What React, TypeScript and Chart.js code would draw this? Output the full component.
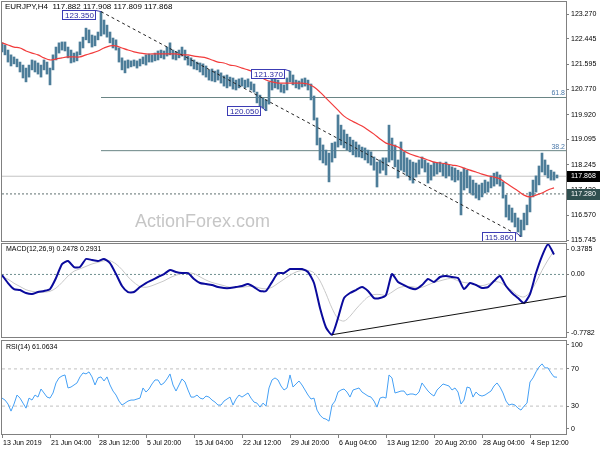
import React, { useEffect, useRef } from "react";
import { Chart, registerables } from "chart.js";

Chart.register(...registerables);

const FONT = "'Liberation Sans', Arial, sans-serif";

// ---------------- data ----------------
const symbolTitle = "EURJPY,H4";
const lastBarOHLC = [117.882, 117.908, 117.809, 117.868];

const X_MAX = 188; // bar index span (1 unit = 2 H4 bars)
const xTickIdx = [0, 16, 32, 48, 64, 80, 96, 112, 128, 144, 160, 176];
const xTickLabels = [
  "13 Jun 2019", "21 Jun 04:00", "28 Jun 12:00", "5 Jul 20:00", "15 Jul 04:00", "22 Jul 12:00",
  "29 Jul 20:00", "6 Aug 04:00", "13 Aug 12:00", "20 Aug 20:00", "28 Aug 04:00", "4 Sep 12:00",
];

const priceTicks = [123.27, 122.445, 121.595, 120.77, 119.92, 119.095, 118.245, 117.42, 116.57, 115.745];
const priceMin = 115.712;
const priceMax = 123.67;

const barHigh = [
  122.31, 122.24, 122.07, 121.91, 121.84, 121.77, 121.67, 121.57, 121.47, 121.57,
  121.74, 121.71, 121.64, 121.57, 121.74, 121.67, 121.47, 121.91, 122.17, 122.31,
  122.34, 122.34, 122.17, 122.07, 121.97, 122.01, 122.34, 122.50, 122.80, 122.74,
  122.57, 122.54, 122.67, 123.35, 123.07, 122.90, 122.67, 122.47, 122.41, 122.14,
  121.81, 121.71, 121.74, 121.71, 121.74, 121.71, 121.77, 121.84, 121.91, 121.94,
  121.91, 121.97, 122.04, 122.07, 122.04, 122.17, 122.31, 122.07, 122.01, 122.07,
  122.17, 122.07, 121.87, 121.81, 121.74, 121.67, 121.64, 121.61, 121.54, 121.41,
  121.44, 121.37, 121.41, 121.31, 121.21, 121.24, 121.17, 121.14, 121.07, 121.11,
  121.14, 121.07, 121.11, 121.01, 120.94, 120.67, 120.57, 120.47, 120.41, 121.01,
  121.17, 121.11, 121.07, 120.94, 120.91, 121.14, 121.37, 121.24, 121.07, 121.04,
  121.11, 121.14, 121.07, 120.94, 120.54, 119.81, 119.14, 118.91, 118.74, 118.64,
  118.97, 119.01, 119.91, 119.57, 119.41, 119.27, 119.17, 119.07, 119.01, 118.91,
  118.84, 118.81, 118.74, 118.68, 118.51, 118.34, 118.41, 118.48, 118.48, 119.57,
  119.14, 118.91, 118.41, 119.01, 118.68, 118.48, 118.41, 118.34, 118.31, 118.41,
  118.51, 118.41, 118.31, 118.24, 118.34, 118.31, 118.34, 118.28, 118.34, 118.24,
  118.18, 118.14, 118.07, 118.01, 118.14, 118.07, 117.88, 117.74, 117.64, 117.58,
  117.64, 117.74, 117.68, 117.88, 117.97, 118.01, 117.91, 117.68, 117.24, 116.91,
  116.81, 116.64, 116.48, 116.41, 116.64, 116.91, 117.34, 117.74, 117.88, 118.21,
  118.64, 118.41, 118.24, 118.07, 118.01, 117.91,
];
const barLow = [
  122.01, 121.91, 121.67, 121.54, 121.61, 121.51, 121.34, 121.14, 121.01, 121.17,
  121.41, 121.34, 121.27, 121.17, 121.41, 121.27, 120.91, 121.41, 121.74, 121.97,
  122.07, 122.04, 121.81, 121.64, 121.67, 121.71, 121.91, 122.14, 122.41, 122.31,
  122.17, 122.21, 122.41, 122.54, 122.60, 122.50, 122.31, 122.14, 122.07, 121.67,
  121.41, 121.31, 121.47, 121.51, 121.54, 121.47, 121.54, 121.61, 121.57, 121.67,
  121.67, 121.71, 121.74, 121.81, 121.77, 121.87, 121.91, 121.77, 121.74, 121.81,
  121.87, 121.74, 121.57, 121.54, 121.44, 121.41, 121.34, 121.24, 121.17, 121.07,
  121.04, 121.01, 121.07, 120.97, 120.87, 120.81, 120.87, 120.77, 120.74, 120.81,
  120.87, 120.81, 120.84, 120.74, 120.67, 120.31, 120.21, 120.14, 120.05, 120.27,
  120.74, 120.81, 120.77, 120.67, 120.64, 120.74, 121.01, 120.91, 120.81, 120.77,
  120.84, 120.87, 120.74, 120.41, 119.74, 118.91, 118.41, 118.31, 118.24, 117.68,
  118.34, 118.48, 118.84, 118.91, 118.81, 118.74, 118.68, 118.58, 118.51, 118.51,
  118.48, 118.41, 118.31, 118.24, 118.07, 117.51, 117.97, 118.07, 117.91, 118.34,
  118.41, 118.18, 117.81, 118.07, 118.01, 117.88, 117.74, 117.64, 117.84, 117.94,
  118.14, 118.01, 117.64, 117.74, 117.88, 117.94, 118.01, 117.88, 117.81, 117.88,
  117.74, 117.68, 117.74, 116.58, 117.41, 117.48, 117.31, 117.24, 117.14, 117.08,
  117.18, 117.31, 117.34, 117.48, 117.54, 117.61, 117.54, 117.14, 116.51, 116.41,
  116.34, 116.18, 116.01, 115.86, 116.08, 116.25, 116.68, 117.18, 117.34, 117.58,
  118.01, 117.91, 117.81, 117.74, 117.74, 117.81,
];

// moving average, one value every 2 bar units
const maValues = [
  122.31, 122.24, 122.17, 122.14, 122.04, 121.97, 121.91, 121.81, 121.74, 121.77,
  121.81, 121.84, 121.84, 121.84, 121.91, 121.97, 122.04, 122.14, 122.21, 122.21,
  122.14, 122.07, 122.01, 121.97, 121.94, 121.94, 121.94, 121.94, 121.94, 121.94,
  121.91, 121.91, 121.87, 121.84, 121.81, 121.74, 121.67, 121.64, 121.57, 121.54,
  121.47, 121.41, 121.34, 121.21, 121.07, 121.01, 120.97, 120.97, 120.97, 120.97,
  120.97, 120.94, 120.84, 120.67, 120.47, 120.27, 120.07, 119.87, 119.74, 119.64,
  119.54, 119.41, 119.27, 119.11, 118.97, 118.91, 118.84, 118.71, 118.61, 118.54,
  118.48, 118.41, 118.34, 118.31, 118.28, 118.24, 118.21, 118.14, 118.07, 118.01,
  117.94, 117.88, 117.84, 117.78, 117.64, 117.51, 117.38, 117.24, 117.18, 117.24,
  117.31, 117.41, 117.48,
];

const fibStartIdx = 33;
const fibLevels = [120.49, 118.72];
const fibNames = ["61.8", "38.2"];
const lastPrice = 117.868;
const supportLevel = 117.28;

const swingIdx = [33, 96, 88, 173];
const swingPrice = [123.35, 121.37, 120.05, 115.86];
const swingIsHigh = [true, true, false, false];

const trendIdx = [33, 173];
const trendPrice = [123.35, 115.86];

// MACD, one value every 2 bar units
const macdValues = [
  -0.007, -0.107, -0.182, -0.194, -0.231, -0.244, -0.219, -0.206, -0.182, -0.045,
  0.129, 0.167, 0.092, 0.092, 0.192, 0.179, 0.167, 0.192, 0.142, 0.005,
  -0.144, -0.219, -0.219, -0.157, -0.107, -0.07, -0.032, 0.005, 0.055, 0.03,
  0.017, 0.017, -0.057, -0.107, -0.119, -0.132, -0.157, -0.169, -0.169, -0.157,
  -0.144, -0.119, -0.157, -0.206, -0.206, -0.095, 0.017, 0.017, 0.067, 0.067,
  0.067, 0.03, -0.107, -0.418, -0.66, -0.75, -0.542, -0.294, -0.231, -0.194,
  -0.157, -0.206, -0.294, -0.294, -0.256, 0.005, -0.095, -0.132, -0.169, -0.182,
  -0.132, -0.057, -0.095, -0.032, -0.02, -0.032, -0.045, -0.182, -0.107, -0.132,
  -0.169, -0.157, -0.082, -0.02, -0.144, -0.231, -0.294, -0.356, -0.244, 0.017,
  0.229, 0.375, 0.2478,
];
const signalValues = [
  -0.03, -0.06, -0.11, -0.15, -0.19, -0.21, -0.22, -0.22, -0.21, -0.17,
  -0.1, -0.02, 0.04, 0.07, 0.1, 0.13, 0.15, 0.17, 0.17, 0.13,
  0.06, -0.03, -0.1, -0.15, -0.16, -0.14, -0.11, -0.08, -0.04, -0.01,
  0.01, 0.02, 0.01, -0.03, -0.07, -0.1, -0.12, -0.14, -0.16, -0.16,
  -0.16, -0.15, -0.15, -0.17, -0.18, -0.16, -0.11, -0.06, -0.01, 0.03,
  0.05, 0.05, 0.02, -0.08, -0.24, -0.42, -0.55, -0.58, -0.52, -0.43,
  -0.35, -0.28, -0.25, -0.25, -0.26, -0.22, -0.17, -0.15, -0.15, -0.16,
  -0.16, -0.13, -0.1, -0.08, -0.06, -0.05, -0.08, -0.1, -0.11, -0.13,
  -0.14, -0.12, -0.09, -0.1, -0.15, -0.2, -0.26, -0.28, -0.22, -0.1,
  0.05, 0.18, 0.2931,
];
const macdMin = -0.7782;
const macdMax = 0.3785;
const macdTickVals = [0.3163, 0, -0.7284];
const macdTickLabels = ["0.3785", "0.00", "-0.7782"];
const macdTrendIdx = [110, 188];
const macdTrendVal = [-0.75, -0.27];

const rsiValues = [
  38.6, 36.5, 32.2, 24.6, 32.2, 41.9, 38.6, 33.2, 27.8, 38.6,
  36.5, 41.9, 39.7, 48.4, 44.1, 39.7, 38.6, 44.1, 54.9, 60.3,
  62.4, 63.5, 49.5, 50.5, 52.7, 54.9, 61.4, 65.7, 64.6, 66.8,
  61.4, 52.7, 60.3, 61.4, 57.0, 61.4, 52.7, 46.2, 41.9, 35.4,
  31.1, 33.2, 35.4, 36.5, 36.5, 37.6, 38.6, 49.5, 45.1, 48.4,
  53.8, 58.1, 58.1, 52.7, 54.9, 59.2, 64.6, 52.7, 46.2, 52.7,
  59.2, 55.9, 47.3, 39.7, 39.7, 41.9, 38.6, 37.6, 40.8, 39.7,
  36.5, 34.3, 31.1, 31.1, 35.4, 37.6, 39.7, 31.1, 37.6, 41.9,
  39.7, 41.9, 44.1, 38.6, 34.3, 33.2, 28.9, 33.2, 30.0, 49.5,
  58.1, 60.3, 58.1, 51.6, 47.3, 49.5, 63.5, 50.5, 53.8, 57.0,
  52.7, 47.3, 41.9, 37.6, 38.6, 25.7, 20.3, 17.0, 16.0, 13.8,
  31.1, 35.4, 45.1, 47.3, 48.4, 45.1, 39.7, 47.3, 48.4, 49.5,
  45.1, 43.0, 40.8, 39.7, 35.4, 28.9, 38.6, 39.7, 38.6, 63.5,
  60.3, 44.1, 45.1, 46.2, 46.2, 41.9, 43.0, 43.0, 41.9, 45.1,
  54.9, 50.5, 46.2, 43.0, 40.8, 47.3, 50.5, 53.8, 52.7, 51.6,
  47.3, 49.5, 45.1, 32.2, 36.5, 50.5, 49.5, 39.7, 45.1, 41.9,
  40.8, 41.9, 44.1, 46.2, 51.6, 54.9, 50.5, 44.1, 35.4, 31.1,
  32.2, 31.1, 27.8, 25.7, 30.0, 33.2, 55.9, 60.3, 66.8, 72.0,
  75.4, 71.1, 71.1, 65.7, 61.4, 61.0634,
];
const rsiTickVals = [95.7, 70, 30, 5.4];
const rsiTickLabels = ["100", "70", "30", "0"];
const rsiLevels = [70, 30];

// ---------------- helpers ----------------
const hLine = (y: number, x0: number, x1: number) => [
  { x: x0, y },
  { x: x1, y },
];

const framePlugin = {
  id: "frame",
  afterDraw(chart: any) {
    const { ctx, chartArea: a } = chart;
    ctx.save();
    ctx.strokeStyle = "#808080";
    ctx.lineWidth = 1;
    ctx.strokeRect(a.left - 0.5, a.top - 0.5, a.right - a.left + 1, a.bottom - a.top + 1);
    ctx.restore();
  },
};

const hiddenX = {
  type: "linear",
  min: 0,
  max: X_MAX,
  display: false,
  offset: false,
  grid: { offset: false },
};

const rightAxis = (min: number, max: number, vals: number[], labels: (v: number, i: number) => string) => ({
  type: "linear",
  position: "right",
  min,
  max,
  afterBuildTicks: (s: any) => {
    s.ticks = vals.map((v) => ({ value: v }));
  },
  afterFit: (s: any) => {
    s.width = 34;
    s.paddingTop = 0;
    s.paddingBottom = 0;
  },
  ticks: {
    autoSkip: false,
    padding: 2,
    color: "#000",
    font: { family: FONT, size: 7 },
    callback: (v: any, i: number) => labels(Number(v), i),
  },
  grid: { display: true, drawOnChartArea: false, drawTicks: true, tickLength: 3, color: "#808080" },
  border: { display: false },
});

const baseOptions = (padding: any) => ({
  animation: false,
  responsive: false,
  devicePixelRatio: 1,
  events: [],
  layout: { padding },
  plugins: { legend: { display: false }, tooltip: { enabled: false } },
});

function mainConfig(): any {
  const overlay = {
    id: "mainOverlay",
    beforeDatasetsDraw(chart: any) {
      const { ctx, chartArea: a } = chart;
      ctx.save();
      ctx.font = "18px 'Liberation Sans', Arial, sans-serif";
      ctx.fillStyle = "#c6c6c6";
      ctx.textAlign = "left";
      ctx.textBaseline = "alphabetic";
      ctx.fillText("ActionForex.com", a.left + 133, a.top + 225);
      ctx.restore();
    },
    afterDraw(chart: any) {
      const { ctx, chartArea: a } = chart;
      const xs = chart.scales.x;
      const ys = chart.scales.y;
      ctx.save();
      // header
      ctx.font = `8px ${FONT}`;
      ctx.fillStyle = "#000";
      ctx.textAlign = "left";
      ctx.textBaseline = "middle";
      ctx.fillText(`${symbolTitle}  ${lastBarOHLC.map((v) => v.toFixed(3)).join(" ")}`, a.left + 3, a.top + 5);
      // fib labels
      ctx.font = `7px ${FONT}`;
      ctx.fillStyle = "#4a78a8";
      ctx.textAlign = "right";
      ctx.textBaseline = "bottom";
      fibLevels.forEach((lv, j) => {
        const y = ys.getPixelForValue(lv);
        ctx.fillText(fibNames[j], a.right - 1, y - 0.5);
      });
      // swing labels
      ctx.font = `8px ${FONT}`;
      ctx.lineWidth = 1;
      swingIdx.forEach((idx, j) => {
        const px = xs.getPixelForValue(idx);
        const py = ys.getPixelForValue(swingPrice[j]);
        const text = swingPrice[j].toFixed(3);
        const w = Math.ceil(ctx.measureText(text).width) + 5;
        const h = 10;
        const right = Math.round(px) - 5;
        const top = Math.round(swingIsHigh[j] ? py - 2 : py - 5);
        ctx.fillStyle = "#fff";
        ctx.fillRect(right - w, top, w, h);
        ctx.strokeStyle = "#3c3cb4";
        ctx.strokeRect(right - w + 0.5, top + 0.5, w - 1, h - 1);
        ctx.beginPath();
        ctx.moveTo(right, top + 0.5);
        ctx.lineTo(px, py);
        ctx.stroke();
        ctx.fillStyle = "#2a2aa0";
        ctx.textAlign = "left";
        ctx.textBaseline = "middle";
        ctx.fillText(text, right - w + 3, top + h / 2 + 0.5);
      });
      // right axis value boxes
      const box = (price: number, bg: string) => {
        const y = Math.round(ys.getPixelForValue(price));
        ctx.fillStyle = bg;
        ctx.fillRect(a.right + 1, y - 5, 34, 11);
        ctx.fillStyle = "#fff";
        ctx.font = `7px ${FONT}`;
        ctx.textAlign = "left";
        ctx.textBaseline = "middle";
        ctx.fillText(price.toFixed(3), a.right + 5, y + 0.5);
      };
      box(supportLevel, "#2f4f4f");
      box(lastPrice, "#000");
      ctx.restore();
    },
  };

  return {
    type: "bar",
    data: {
      datasets: [
        { type: "line", data: hLine(lastPrice, 0, X_MAX), borderColor: "#c4c4c4", borderWidth: 1, pointRadius: 0, order: 12 },
        {
          type: "line",
          data: hLine(supportLevel, 0, X_MAX),
          borderColor: "#5f7070",
          borderWidth: 1,
          borderDash: [2, 2],
          pointRadius: 0,
          order: 11,
        },
        ...fibLevels.map((lv) => ({
          type: "line",
          data: hLine(lv, fibStartIdx, X_MAX),
          borderColor: "#6a8585",
          borderWidth: 1,
          pointRadius: 0,
          order: 10,
        })),
        {
          type: "bar",
          data: barHigh.map((h, i) => ({ x: i, y: [barLow[i], h] })),
          backgroundColor: "#4d7d99",
          borderWidth: 0,
          barThickness: 2,
          grouped: false,
          order: 5,
        },
        {
          type: "line",
          data: maValues.map((v, k) => ({ x: 2 * k, y: v })),
          borderColor: "#f23c3c",
          borderWidth: 1.2,
          pointRadius: 0,
          tension: 0.3,
          order: 3,
        },
        {
          type: "line",
          data: trendIdx.map((x, j) => ({ x, y: trendPrice[j] })),
          borderColor: "#222",
          borderWidth: 1,
          borderDash: [3, 3],
          pointRadius: 0,
          order: 1,
        },
      ],
    },
    options: {
      ...baseOptions({ left: 2, top: 2, right: 0, bottom: 9 }),
      scales: {
        x: hiddenX,
        y: rightAxis(priceMin, priceMax, priceTicks, (v) => v.toFixed(3)),
      },
    },
    plugins: [overlay, framePlugin],
  };
}

function macdConfig(): any {
  const overlay = {
    id: "macdOverlay",
    afterDraw(chart: any) {
      const { ctx, chartArea: a } = chart;
      ctx.save();
      ctx.font = `7px ${FONT}`;
      ctx.fillStyle = "#000";
      ctx.textAlign = "left";
      ctx.textBaseline = "middle";
      ctx.fillText(
        `MACD(12,26,9) ${macdValues[macdValues.length - 1].toFixed(4)} ${signalValues[signalValues.length - 1].toFixed(4)}`,
        a.left + 4,
        a.top + 5
      );
      ctx.restore();
    },
  };
  return {
    type: "line",
    data: {
      datasets: [
        { data: hLine(0, 0, X_MAX), borderColor: "#6f8f8f", borderWidth: 1, borderDash: [2, 2], pointRadius: 0, order: 10 },
        {
          data: signalValues.map((v, k) => ({ x: 2 * k, y: v })),
          borderColor: "#c8c8c8",
          borderWidth: 1,
          pointRadius: 0,
          tension: 0.3,
          order: 5,
        },
        {
          data: macdValues.map((v, k) => ({ x: 2 * k, y: v })),
          borderColor: "#0a0a9c",
          borderWidth: 2,
          pointRadius: 0,
          tension: 0.2,
          order: 3,
        },
        {
          data: macdTrendIdx.map((x, j) => ({ x, y: macdTrendVal[j] })),
          borderColor: "#111",
          borderWidth: 1,
          pointRadius: 0,
          order: 1,
        },
      ],
    },
    options: {
      ...baseOptions({ left: 2, top: 4, right: 0, bottom: 3 }),
      scales: {
        x: hiddenX,
        y: rightAxis(macdMin, macdMax, macdTickVals, (_v, i) => macdTickLabels[i]),
      },
    },
    plugins: [overlay, framePlugin],
  };
}

function rsiConfig(): any {
  const overlay = {
    id: "rsiOverlay",
    afterDraw(chart: any) {
      const { ctx, chartArea: a } = chart;
      ctx.save();
      ctx.font = `7px ${FONT}`;
      ctx.fillStyle = "#000";
      ctx.textAlign = "left";
      ctx.textBaseline = "middle";
      ctx.fillText(`RSI(14) ${rsiValues[rsiValues.length - 1].toFixed(4)}`, a.left + 4, a.top + 6);
      ctx.restore();
    },
  };
  return {
    type: "line",
    data: {
      datasets: [
        ...rsiLevels.map((lv) => ({
          data: hLine(lv, 0, X_MAX),
          borderColor: "#c0c0c0",
          borderWidth: 1,
          borderDash: [3, 3],
          pointRadius: 0,
          order: 10,
        })),
        {
          data: rsiValues.map((v, i) => ({ x: i, y: v })),
          borderColor: "#45a0f5",
          borderWidth: 1,
          pointRadius: 0,
          order: 2,
        },
      ],
    },
    options: {
      ...baseOptions({ left: 2, top: 5, right: 0, bottom: 0 }),
      scales: {
        x: {
          type: "linear",
          min: 0,
          max: X_MAX,
          offset: false,
          afterBuildTicks: (s: any) => {
            s.ticks = xTickIdx.map((v) => ({ value: v }));
          },
          afterFit: (s: any) => {
            s.height = 16;
            s.paddingLeft = 0;
            s.paddingRight = 0;
          },
          ticks: {
            autoSkip: false,
            maxRotation: 0,
            minRotation: 0,
            align: "start",
            padding: 1,
            labelOffset: 1,
            color: "#000",
            font: { family: FONT, size: 7 },
            callback: (_v: any, i: number) => xTickLabels[i],
          },
          grid: { display: true, drawOnChartArea: false, drawTicks: true, tickLength: 4, color: "#808080", offset: false },
          border: { display: false },
        },
        y: rightAxis(0, 100, rsiTickVals, (_v, i) => rsiTickLabels[i]),
      },
    },
    plugins: [overlay, framePlugin],
  };
}

export default function App() {
  const mainRef = useRef<HTMLCanvasElement>(null);
  const macdRef = useRef<HTMLCanvasElement>(null);
  const rsiRef = useRef<HTMLCanvasElement>(null);

  useEffect(() => {
    const c1 = new Chart(mainRef.current as HTMLCanvasElement, mainConfig());
    const c2 = new Chart(macdRef.current as HTMLCanvasElement, macdConfig());
    const c3 = new Chart(rsiRef.current as HTMLCanvasElement, rsiConfig());
    return () => {
      c1.destroy();
      c2.destroy();
      c3.destroy();
    };
  }, []);

  return (
    <div
      style={{
        position: "absolute",
        left: 0,
        top: 0,
        width: 600,
        height: 450,
        background: "#fff",
        overflow: "hidden",
      }}
    >
      <canvas ref={mainRef} width={600} height={250} style={{ position: "absolute", left: 0, top: 0 }} />
      <canvas ref={macdRef} width={600} height={100} style={{ position: "absolute", left: 0, top: 240 }} />
      <canvas ref={rsiRef} width={600} height={114} style={{ position: "absolute", left: 0, top: 336 }} />
    </div>
  );
}
